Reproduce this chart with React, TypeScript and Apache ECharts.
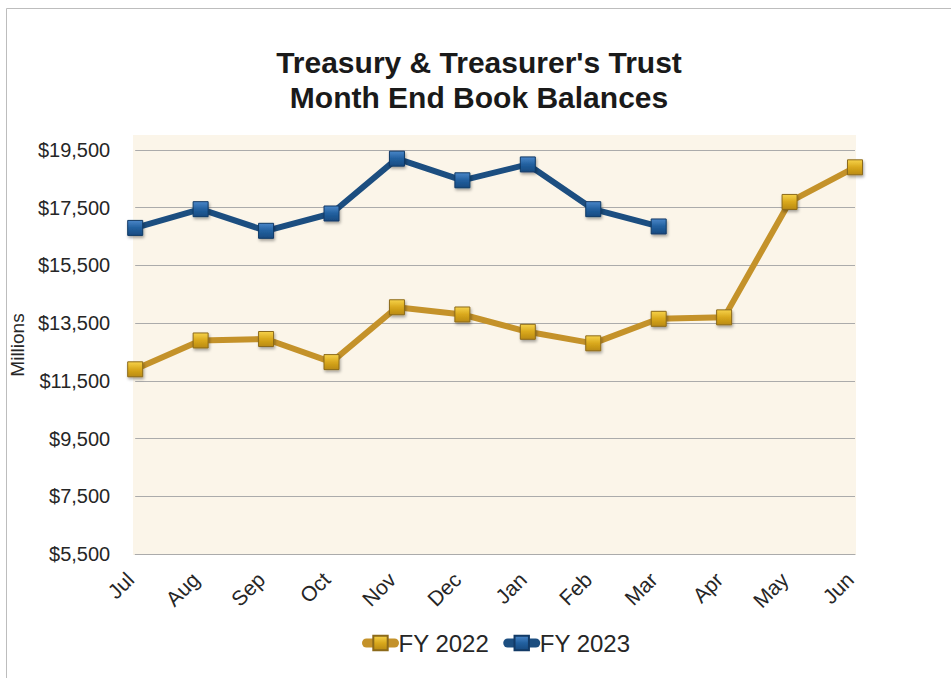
import React, { useEffect, useRef } from "react";
import * as echarts from "echarts";

const months = ["Jul", "Aug", "Sep", "Oct", "Nov", "Dec", "Jan", "Feb", "Mar", "Apr", "May", "Jun"];
const fy2022 = [11900, 12900, 12950, 12150, 14050, 13800, 13200, 12800, 13650, 13700, 17700, 18900];
const fy2023 = [16800, 17450, 16700, 17300, 19200, 18450, 19000, 17450, 16850];
const axisBase = 5500;
const axisStep = 2000;
const axisTop = 19500;
const seriesNames = ["FY 2022", "FY 2023"];
const titleLines = ["Treasury & Treasurer's Trust", "Month End Book Balances"];

const FONT = "'Liberation Sans', Arial, sans-serif";

const goldMarker = new echarts.graphic.LinearGradient(0, 0, 0, 1, [
  { offset: 0, color: "#F6D24A" },
  { offset: 0.5, color: "#D9A81C" },
  { offset: 1, color: "#B98A12" },
]);
const blueMarker = new echarts.graphic.LinearGradient(0, 0, 0, 1, [
  { offset: 0, color: "#4A86C8" },
  { offset: 0.5, color: "#22609F" },
  { offset: 1, color: "#174A80" },
]);

export default function App() {
  const ref = useRef<HTMLDivElement>(null);
  useEffect(() => {
    if (!ref.current) return;
    const chart = echarts.init(ref.current, null, { renderer: "svg" });
    const shift = (arr: number[]) => arr.map((v) => v - axisBase);
    chart.setOption({
      animation: false,
      backgroundColor: "#ffffff",
      textStyle: { fontFamily: FONT },
      title: {
        text: titleLines.join("\n"),
        left: 474,
        textAlign: "center",
        top: 40,
        textStyle: {
          fontFamily: FONT,
          fontSize: 30,
          fontWeight: "bold",
          color: "#1a1a1a",
          lineHeight: 35,
        },
      },
      graphic: [
        {
          type: "rect",
          z: -10,
          silent: true,
          shape: { x: 6.5, y: 8.5, width: 980, height: 700 },
          style: { fill: "none", stroke: "#BDBDBD", lineWidth: 1 },
        },
        {
          type: "rect",
          z: -5,
          silent: true,
          shape: { x: 133, y: 135, width: 723, height: 420 },
          style: { fill: "#FBF5E9" },
        },
      ],
      legend: {
        top: 626,
        left: 357,
        itemWidth: 28,
        itemHeight: 18,
        itemGap: 14,
        lineStyle: { width: 9, cap: "round" },
        textStyle: { fontFamily: FONT, fontSize: 24, color: "#262626", padding: [0, 0, 0, -1] },
        data: seriesNames,
      },
      grid: { left: 133, right: 96, top: 150, bottom: 124 },
      xAxis: {
        type: "category",
        data: months,
        boundaryGap: false,
        axisLine: { show: true, lineStyle: { color: "#ABABAB", width: 1 } },
        axisTick: { show: false },
        axisLabel: {
          rotate: 45,
          margin: 17,
          padding: [0, 7, 0, 0],
          fontFamily: FONT,
          fontSize: 21,
          color: "#262626",
        },
      },
      yAxis: {
        type: "value",
        min: 0,
        max: axisTop - axisBase,
        interval: axisStep,
        name: "Millions",
        nameLocation: "middle",
        nameGap: 108,
        nameTextStyle: { fontFamily: FONT, fontSize: 19, color: "#262626", padding: [0, 0, 0, 14] },
        axisLine: { show: false },
        axisTick: { show: false },
        splitLine: { show: true, lineStyle: { color: "#ABABAB", width: 1 } },
        axisLabel: {
          margin: 25,
          fontFamily: FONT,
          fontSize: 20,
          color: "#262626",
          formatter: (v: number) => "$" + (v + axisBase).toLocaleString("en-US"),
        },
      },
      series: [
        {
          name: seriesNames[0],
          type: "line",
          data: shift(fy2022),
          symbol: "rect",
          symbolSize: 15,
          lineStyle: { color: "#C4922A", width: 6 },
          itemStyle: {
            color: goldMarker,
            borderColor: "#8C6A1A",
            borderWidth: 1,
            shadowColor: "rgba(0,0,0,0.35)",
            shadowBlur: 3,
            shadowOffsetX: 1,
            shadowOffsetY: 2,
          },
          z: 3,
        },
        {
          name: seriesNames[1],
          type: "line",
          data: shift(fy2023),
          symbol: "rect",
          symbolSize: 15,
          lineStyle: { color: "#1C4E80", width: 6 },
          itemStyle: {
            color: blueMarker,
            borderColor: "#123A66",
            borderWidth: 1,
            shadowColor: "rgba(0,0,0,0.35)",
            shadowBlur: 3,
            shadowOffsetX: 1,
            shadowOffsetY: 2,
          },
          z: 4,
        },
      ],
    });
    return () => chart.dispose();
  }, []);
  return (
    <div
      ref={ref}
      style={{ position: "fixed", left: 0, top: 0, width: 951, height: 678 }}
    />
  );
}
